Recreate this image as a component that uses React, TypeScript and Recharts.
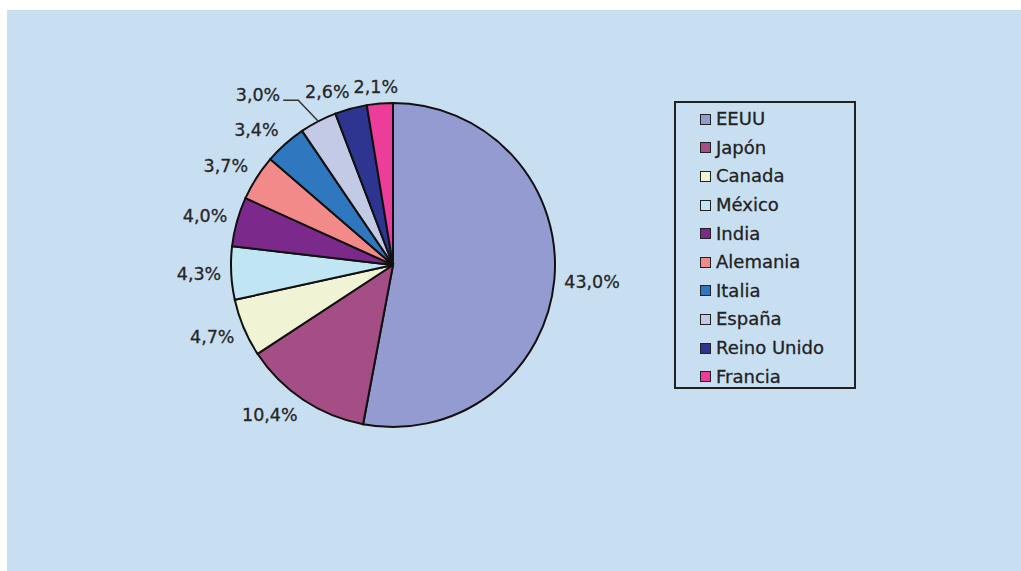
import { PieChart, Pie, Cell, Legend } from "recharts";

const countries = ["EEUU", "Japón", "Canada", "México", "India", "Alemania", "Italia", "España", "Reino Unido", "Francia"];
const shares = [43.0, 10.4, 4.7, 4.3, 4.0, 3.7, 3.4, 3.0, 2.6, 2.1];
const colors = ["#949bd1", "#a54e85", "#f0f3d4", "#c0e6f3", "#7b2a8b", "#f28a8a", "#2f78c0", "#c3cae6", "#2e3590", "#ec3d9b"];
// slices whose label is pulled out with a leader line
const calloutCountries = ["España"];

const data = countries.map((name, i) => ({ name, value: shares[i] }));

const CX = 393;
const CY = 265;
const R = 162;
const LABEL_FONT = 17.5;
const RAD = Math.PI / 180;
const FONT = "'DejaVu Sans', sans-serif";

const fmt = (v: number) => v.toFixed(1).replace(".", ",") + "%";
const textWidth = (s: string) =>
  s.split("").reduce((w, ch) => w + (ch === "," ? 0.318 : ch === "%" ? 0.95 : 0.636), 0) * LABEL_FONT;

// label boxes around the pie, with a simple pass so neighbours don't overlap
function layoutLabels() {
  const total = shares.reduce((a, b) => a + b, 0);
  const clamp = (t: number) => Math.max(-1, Math.min(1, t * 1.8));
  let acc = 0;
  const boxes = shares.map((v, i) => {
    const mid = 90 - ((acc + v / 2) / total) * 360;
    acc += v;
    const c = Math.cos(mid * RAD);
    const s = -Math.sin(mid * RAD);
    const w = textWidth(fmt(v));
    const h = LABEL_FONT * 0.8;
    const px = CX + (R + 10) * c;
    const py = CY + (R + 10) * s;
    return { x: px + (clamp(c) * w) / 2, y: py + (clamp(s) * h) / 2, w, h, callout: calloutCountries.includes(countries[i]) };
  });
  for (let i = boxes.length - 2; i >= 0; i--) {
    const a = boxes[i];
    if (a.callout) continue;
    let j = i + 1;
    while (j < boxes.length && boxes[j].callout) j++;
    if (j >= boxes.length) continue;
    const b = boxes[j];
    const overlapY = Math.abs(a.y - b.y) < (a.h + b.h) / 2 + 2;
    const overlapX = a.x + a.w / 2 + 4 > b.x - b.w / 2;
    if (overlapY && overlapX && a.x < CX) a.x = b.x - b.w / 2 - 4 - a.w / 2;
  }
  return boxes;
}

const labels = layoutLabels();

function renderLabel(props: any) {
  const { index, cx, cy, midAngle, outerRadius } = props;
  const b = labels[index];
  const text = fmt(shares[index]);
  const textProps = { fontFamily: FONT, fontSize: LABEL_FONT, fill: "#262626", stroke: "#262626", strokeWidth: 0.3 };
  if (b.callout) {
    const c = Math.cos(-midAngle * RAD);
    const s = Math.sin(-midAngle * RAD);
    const sx = cx + outerRadius * c;
    const sy = cy + outerRadius * s;
    // leader goes up-left at ~45deg, then a short horizontal run
    const ex = sx - 20;
    const ey = sy - 21;
    const hx = ex - 15;
    return (
      <g>
        <polyline points={`${sx},${sy} ${ex},${ey} ${hx},${ey}`} fill="none" stroke="#333" strokeWidth={1.5} />
        <text x={hx - 3} y={ey - 5} textAnchor="end" dominantBaseline="central" {...textProps}>
          {text}
        </text>
      </g>
    );
  }
  return (
    <text x={b.x} y={b.y} textAnchor="middle" dominantBaseline="central" {...textProps}>
      {text}
    </text>
  );
}

function renderLegend() {
  return (
    <div style={{ border: "2px solid #222", boxSizing: "border-box", width: 182, height: 288, paddingTop: 2 }}>
      {countries.map((name, i) => (
        <div key={name} style={{ height: 28.6, display: "flex", alignItems: "center", paddingLeft: 24 }}>
          <span
            style={{
              width: 11,
              height: 11,
              background: colors[i],
              border: "1px solid #222",
              boxSizing: "border-box",
              marginRight: 5,
              flexShrink: 0,
            }}
          />
          <span style={{ fontFamily: FONT, fontSize: 18, color: "#222", lineHeight: 1, WebkitTextStroke: "0.3px #222" }}>
            {name}
          </span>
        </div>
      ))}
    </div>
  );
}

export default function App() {
  return (
    <div style={{ position: "fixed", left: 0, top: 0, width: 1021, height: 571, background: "#fff" }}>
      <div style={{ position: "absolute", left: 7, top: 10, width: 1014, height: 561, background: "#c8dff2" }} />
      <div style={{ position: "absolute", left: 0, top: 0 }}>
        <PieChart width={1021} height={571} margin={{ top: 0, right: 0, bottom: 0, left: 0 }}>
          <Pie
            data={data}
            dataKey="value"
            nameKey="name"
            cx={CX}
            cy={CY}
            outerRadius={R}
            startAngle={90}
            endAngle={-270}
            stroke="#111"
            strokeWidth={2}
            label={renderLabel}
            labelLine={false}
            isAnimationActive={false}
          >
            {data.map((d, i) => (
              <Cell key={d.name} fill={colors[i]} stroke="#111" strokeWidth={2} />
            ))}
          </Pie>
          <Legend
            content={renderLegend}
            layout="vertical"
            wrapperStyle={{ left: 674, top: 101, width: 182, height: 288, right: "auto", bottom: "auto" }}
          />
        </PieChart>
      </div>
    </div>
  );
}
